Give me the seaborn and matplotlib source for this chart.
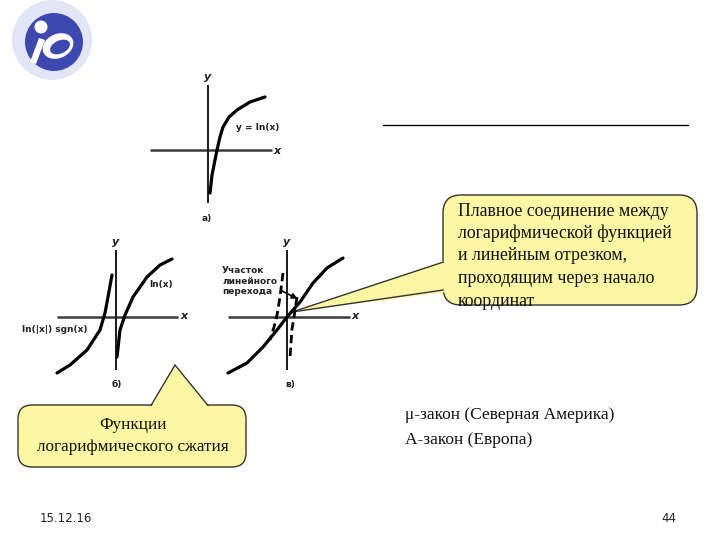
import matplotlib
matplotlib.use("Agg")
import matplotlib.pyplot as plt
import seaborn as sns
import numpy as np
from matplotlib.patches import FancyBboxPatch, Polygon, Circle, Ellipse

sns.set_theme(style="white")
plt.rcParams['font.family'] = ['DejaVu Sans']

# ---- data (pixel units relative to each diagram origin, y up) ----
a_x = [2, 4, 7, 9, 12, 15, 21, 29, 42, 57]
a_y = [-43, -25, -10, 0, 13, 23, 33, 40, 48, 53]

b_right_x = [1, 4, 9, 17, 31, 44, 56]
b_right_y = [-40, -13, 2, 20, 40, 52, 58]
b_left_x = [-4, -8, -11, -16, -29, -46, -59]
b_left_y = [42, 20, 4, -13, -33, -48, -56]

v_solid_x = [-59, -40, -24, -10, 0, 13, 26, 40, 56]
v_solid_y = [-56, -46, -30, -13, 0, 15, 34, 49, 59]
v_dash_left_x = [-4, -7, -10, -13, -17]
v_dash_left_y = [44, 20, 2, -10, -23]
v_dash_right_x = [10, 7, 5, 4, 3]
v_dash_right_y = [20, 0, -12, -26, -41]

callout1_lines = ["Плавное соединение между", "логарифмической функцией",
                  "и линейным отрезком,", "проходящим через начало", "координат"]
callout2_lines = ["Функции", "логарифмического сжатия"]
law_lines = ["μ-закон (Северная Америка)", "A-закон (Европа)"]
footer_date = "15.12.16"
footer_page = "44"

W, H = 720, 540
fig = plt.figure(figsize=(7.2, 5.4), dpi=100)
fig.patch.set_facecolor("white")

ov = fig.add_axes([0, 0, 1, 1])
ov.set_xlim(0, W)
ov.set_ylim(H, 0)
ov.axis("off")


def diagram(ox, oy, xmin, xmax, ymin, ymax):
    ax = fig.add_axes([(ox + xmin) / W, (H - (oy - ymin)) / H,
                       (xmax - xmin) / W, (ymax - ymin) / H])
    ax.set_xlim(xmin, xmax)
    ax.set_ylim(ymin, ymax)
    ax.axis("off")
    ax.patch.set_alpha(0)
    ax.plot([xmin, xmax], [0, 0], color="#3a3a3a", lw=1.8, solid_capstyle="butt")
    ax.plot([0, 0], [ymin, ymax], color="#1a1a1a", lw=1.4, solid_capstyle="butt")
    return ax


def unclip(ax):
    for ln in ax.lines:
        ln.set_clip_on(False)

lab = dict(fontsize=6.5, fontweight="bold", color="#222222")
axlab = dict(fontsize=8, fontweight="bold", style="italic", color="#222222")

# ---- diagram a) ----
ax_a = diagram(208, 150, -58, 64, -53, 65)
sns.lineplot(x=a_x, y=a_y, ax=ax_a, sort=False, estimator=None, color="black", lw=2.3)
unclip(ax_a)
ov.text(208, 77, "y", ha="center", va="center", **axlab)
ov.text(277, 151, "x", ha="center", va="center", **axlab)
ov.text(258, 127, "y = ln(x)", ha="center", va="center", **lab)
ov.text(207, 219, "a)", ha="center", va="center", **lab)

# ---- diagram б) ----
ax_b = diagram(116, 317, -59, 62, -53, 67)
sns.lineplot(x=b_right_x, y=b_right_y, ax=ax_b, sort=False, estimator=None, color="black", lw=2.3)
sns.lineplot(x=b_left_x, y=b_left_y, ax=ax_b, sort=False, estimator=None, color="black", lw=2.3)
unclip(ax_b)
ov.text(116, 242, "y", ha="center", va="center", **axlab)
ov.text(184, 316, "x", ha="center", va="center", **axlab)
ov.text(161, 284, "ln(x)", ha="center", va="center", **lab)
ov.text(55, 330, "ln(|x|) sgn(x)", ha="center", va="center", **lab)
ov.text(117, 385, "б)", ha="center", va="center", **lab)

# ---- diagram в) ----
ax_v = diagram(287, 317, -59, 63, -53, 67)
sns.lineplot(x=v_solid_x, y=v_solid_y, ax=ax_v, sort=False, estimator=None, color="black", lw=2.3)
sns.lineplot(x=v_dash_left_x, y=v_dash_left_y, ax=ax_v, sort=False, estimator=None,
             color="black", lw=2.0, linestyle=(0, (3.0, 1.6)))
sns.lineplot(x=v_dash_right_x, y=v_dash_right_y, ax=ax_v, sort=False, estimator=None,
             color="black", lw=2.0, linestyle=(0, (3.0, 1.6)))
unclip(ax_v)
ov.text(287, 242, "y", ha="center", va="center", **axlab)
ov.text(355, 316, "x", ha="center", va="center", **axlab)
ov.text(222, 281, "Участок\nлинейного\nперехода", ha="left", va="center",
        linespacing=1.25, **lab)
ov.annotate("", xy=(300, 300), xytext=(278, 289),
            arrowprops=dict(arrowstyle="-|>", color="black", lw=1.2, mutation_scale=8))
ov.text(290, 385, "в)", ha="center", va="center", **lab)

# ---- horizontal rule ----
ov.plot([383, 688], [125, 125], color="black", lw=1.0)

yellow = "#fbf7a2"
edge = "#333333"

# ---- callout 1 ----
box1 = FancyBboxPatch((455, 207), 230, 86, boxstyle="round,pad=12,rounding_size=18",
                      fc=yellow, ec=edge, lw=1.0, zorder=3)
ov.add_patch(box1)
tail1 = Polygon([(292, 312), (447, 260), (447, 292)], closed=True, fc=yellow, ec="none", zorder=4)
ov.add_patch(tail1)
ov.plot([292, 443.5], [312, 262], color=edge, lw=1.0, zorder=5)
ov.plot([292, 443.5], [312, 290], color=edge, lw=1.0, zorder=5)
for i, line in enumerate(callout1_lines):
    ov.text(458, 211 + i * 22.5, line, ha="left", va="center", fontsize=12.8,
            family="Liberation Serif", color="#111111", zorder=6)

# ---- callout 2 ----
box2 = FancyBboxPatch((26, 413), 212, 46, boxstyle="round,pad=8,rounding_size=14",
                      fc=yellow, ec=edge, lw=1.0, zorder=3)
ov.add_patch(box2)
tail2 = Polygon([(175, 365), (150, 409), (210, 409)], closed=True, fc=yellow, ec="none", zorder=4)
ov.add_patch(tail2)
ov.plot([175, 151], [365, 405.5], color=edge, lw=1.0, zorder=5)
ov.plot([175, 208], [365, 405.5], color=edge, lw=1.0, zorder=5)
for i, line in enumerate(callout2_lines):
    ov.text(133, 425 + i * 22, line, ha="center", va="center", fontsize=12.3,
            family="Liberation Serif", color="#111111", zorder=6)

# ---- laws text ----
for i, line in enumerate(law_lines):
    ov.text(405, 415 + i * 25, line, ha="left", va="center", fontsize=12.5,
            family="Liberation Serif", color="#111111")

# ---- footer ----
ov.text(40, 518, footer_date, ha="left", va="center", fontsize=8.5, color="#222222")
ov.text(676, 518, footer_page, ha="right", va="center", fontsize=8.5, color="#222222")

# ---- logo ----
ov.add_patch(Circle((52, 40), 40, fc="#e3e6f6", ec="none", zorder=2))
ov.add_patch(Circle((54, 42), 29, fc="#3d49b0", ec="none", zorder=3))
ov.add_patch(Ellipse((58, 46), 32, 24, angle=-25, fc="white", ec="none", zorder=4))
ov.add_patch(Ellipse((60, 47), 21, 13, angle=-25, fc="#3d49b0", ec="none", zorder=5))
ov.add_patch(Circle((41, 27), 6.5, fc="white", ec="none", zorder=5))
ov.add_patch(Polygon([(30, 62), (39, 38), (45, 40), (36, 64)], closed=True, fc="white", ec="none", zorder=5))

fig.savefig("out.png", dpi=100)
